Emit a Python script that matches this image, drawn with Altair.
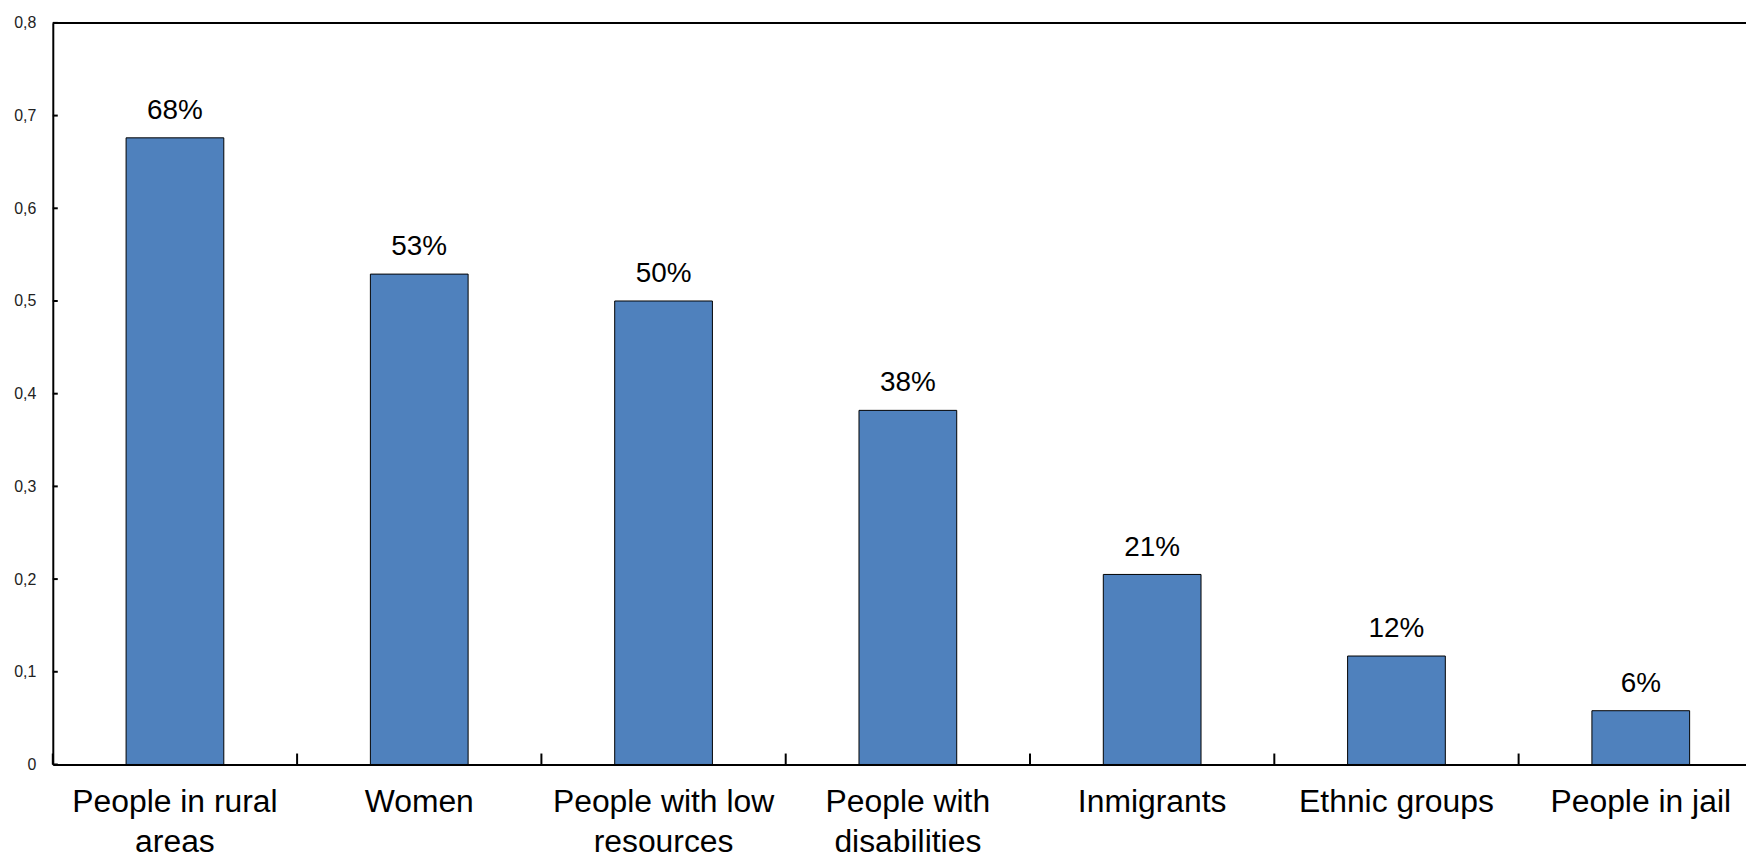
import altair as alt
import pandas as pd

categories = ["People in rural|areas", "Women", "People with low|resources",
              "People with|disabilities", "Inmigrants", "Ethnic groups", "People in jail"]
values = [0.676, 0.529, 0.500, 0.382, 0.205, 0.117, 0.058]
value_labels = ["68%", "53%", "50%", "38%", "21%", "12%", "6%"]
y_ticks = [0.0, 0.1, 0.2, 0.3, 0.4, 0.5, 0.6, 0.7, 0.8]

df = pd.DataFrame({"cat": categories, "value": values, "label": value_labels})
tick_df = pd.DataFrame({"t": y_ticks})

FONT = "Liberation Sans"
W, H = 1701, 745

xscale = alt.Scale(range=[0, 1718], paddingInner=0, paddingOuter=0)
yscale = alt.Scale(domain=[0, 0.8], nice=False)

x_axis = alt.Axis(title=None, ticks=False, labelAngle=0, labelFontSize=32,
                  labelColor="black", labelLineHeight=40, labelPadding=22,
                  labelLimit=0, labelExpr="split(datum.label, '|')",
                  domainColor="black", domainWidth=2, grid=False, zindex=1,
                  labelFont=FONT)
y_axis = alt.Axis(title=None, values=y_ticks, ticks=False, labelFontSize=16,
                  labelColor="#222222", labelPadding=17, domainColor="black",
                  domainWidth=2, grid=False, zindex=1, labelFont=FONT,
                  labelExpr="datum.value == 0 ? '0' : replace(format(datum.value, '.1f'), '.', ',')")

base = alt.Chart(df)

xgrid = base.mark_rule(color="white", strokeWidth=1).encode(
    x=alt.X("cat:N", sort=None, scale=xscale, axis=x_axis, bandPosition=0),
    y=alt.value(0), y2=alt.value(H))

ygrid = alt.Chart(tick_df).mark_rule(color="white", strokeWidth=1).encode(
    y=alt.Y("t:Q", scale=yscale, axis=y_axis))

bars = base.mark_bar(color="#4F81BD", stroke="black", strokeWidth=1,
                     width=alt.RelativeBandSize(0.4)).encode(
    x=alt.X("cat:N", sort=None, scale=xscale, axis=x_axis),
    y=alt.Y("value:Q", scale=yscale, axis=y_axis))

text = base.mark_text(fontSize=28, font=FONT, color="black", baseline="alphabetic",
                      dy=-19).encode(
    x=alt.X("cat:N", sort=None, scale=xscale, axis=x_axis),
    y=alt.Y("value:Q", scale=yscale, axis=y_axis),
    text="label:N")

xticks = base.mark_rule(color="black", strokeWidth=2).encode(
    x=alt.X("cat:N", sort=None, scale=xscale, axis=x_axis, bandPosition=0),
    y=alt.value(H), y2=alt.value(H - 11))

yticks = alt.Chart(tick_df).mark_rule(color="black", strokeWidth=2).encode(
    y=alt.Y("t:Q", scale=yscale, axis=y_axis),
    x=alt.value(0), x2=alt.value(5))

top = alt.Chart(tick_df).transform_filter("datum.t == 0.8").mark_rule(
    color="black", strokeWidth=2).encode(
    y=alt.Y("t:Q", scale=yscale, axis=y_axis))

chart = alt.layer(xgrid, ygrid, bars, text, xticks, yticks, top).properties(
    width=W, height=H,
    autosize=alt.AutoSizeParams(type="none"),
    padding={"left": 45, "top": 13, "right": 0, "bottom": 93},
).configure_view(fill="#F2FFFF", stroke=None).configure(font=FONT)

chart.save("out.html", embed_options={"renderer": "svg", "actions": False})
